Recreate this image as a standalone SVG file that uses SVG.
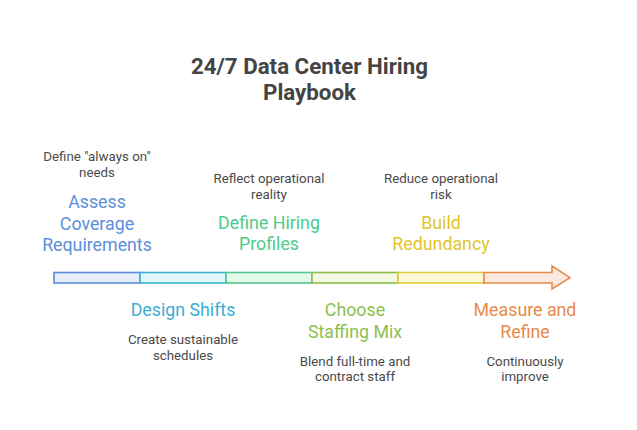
<svg xmlns="http://www.w3.org/2000/svg" width="637" height="430" viewBox="0 0 637 430">
<style>
text{font-family:Roboto,"Liberation Sans",sans-serif;text-anchor:middle}
.t{font-size:22.3px;font-weight:bold;fill:#444}
.h{font-size:17.8px}
.d{font-size:13.3px;fill:#4a4a4a}
.seg{stroke-width:1.6}
</style>
<rect width="637" height="430" fill="#fff"/>
<text class="t" x="309.5" y="74">24/7 Data Center Hiring</text>
<text class="t" x="309.5" y="100">Playbook</text>
<g id="connectors">
<rect class="seg" x="54" y="272.5" width="86" height="10.5" fill="#e9eefb" stroke="#5b8bd6"/>
<rect class="seg" x="140" y="272.5" width="86" height="10.5" fill="#e1f7fb" stroke="#3fb0d2"/>
<rect class="seg" x="226" y="272.5" width="86" height="10.5" fill="#e3f9ea" stroke="#52c98c"/>
<rect class="seg" x="312" y="272.5" width="86" height="10.5" fill="#f3f9e2" stroke="#8cbf4c"/>
<rect class="seg" x="398" y="272.5" width="86" height="10.5" fill="#fdf9d9" stroke="#e3cd3c"/>
<path class="seg" d="M484 272.5 H552 V266 L570 277.7 L552 289 V283 H484 Z" fill="#fbe9e0" stroke="#e68b4c"/>
</g>
<g id="n1">
<text class="d" x="97" y="161">Define "always on"</text>
<text class="d" x="97" y="177">needs</text>
<text class="h" x="97" y="208" fill="#5b8fd9">Assess</text>
<text class="h" x="97" y="230" fill="#5b8fd9">Coverage</text>
<text class="h" x="97" y="251" fill="#5b8fd9">Requirements</text>
</g>
<g id="n2">
<text class="h" x="183" y="316" fill="#3aaed6">Design Shifts</text>
<text class="d" x="183" y="344">Create sustainable</text>
<text class="d" x="183" y="360">schedules</text>
</g>
<g id="n3">
<text class="d" x="269" y="183">Reflect operational</text>
<text class="d" x="269" y="199">reality</text>
<text class="h" x="269" y="229" fill="#4dcb8a">Define Hiring</text>
<text class="h" x="269" y="250" fill="#4dcb8a">Profiles</text>
</g>
<g id="n4">
<text class="h" x="355" y="316" fill="#8cc04f">Choose</text>
<text class="h" x="355" y="338" fill="#8cc04f">Staffing Mix</text>
<text class="d" x="355" y="366">Blend full-time and</text>
<text class="d" x="355" y="381">contract staff</text>
</g>
<g id="n5">
<text class="d" x="441" y="183">Reduce operational</text>
<text class="d" x="441" y="199">risk</text>
<text class="h" x="441" y="229" fill="#dfc52a">Build</text>
<text class="h" x="441" y="250" fill="#dfc52a">Redundancy</text>
</g>
<g id="n6">
<text class="h" x="525" y="316" fill="#e88a4a">Measure and</text>
<text class="h" x="525" y="338" fill="#e88a4a">Refine</text>
<text class="d" x="525" y="366">Continuously</text>
<text class="d" x="525" y="381">improve</text>
</g>
</svg>
